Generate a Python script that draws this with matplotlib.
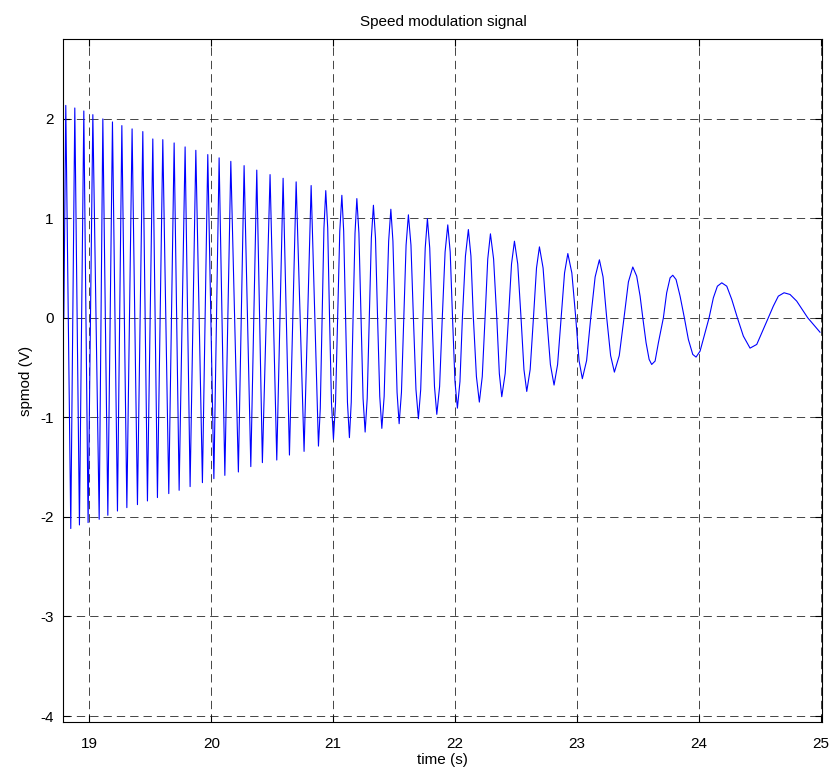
import numpy as np
import matplotlib.pyplot as plt

plt.rcParams['font.family'] = ['Liberation Sans', 'DejaVu Sans']
plt.rcParams['axes.unicode_minus'] = False

# extrema of the signal (time s, value V)
peak_t = [18.806, 18.880, 18.954, 19.028, 19.110, 19.189, 19.266, 19.350, 19.438, 19.520,
          19.602, 19.695, 19.785, 19.873, 19.971, 20.064, 20.160, 20.269, 20.373, 20.482,
          20.589, 20.696, 20.819, 20.939, 21.071, 21.194, 21.330, 21.473, 21.617, 21.773,
          21.940, 22.109, 22.290, 22.487, 22.692, 22.925, 23.184, 23.458, 23.786, 24.188,
          24.699]
peak_v = [2.133, 2.107, 2.077, 2.040, 1.997, 1.967, 1.930, 1.897, 1.870, 1.796,
          1.789, 1.756, 1.716, 1.682, 1.639, 1.606, 1.571, 1.528, 1.483, 1.438,
          1.401, 1.365, 1.328, 1.277, 1.230, 1.197, 1.130, 1.090, 1.034, 0.996,
          0.933, 0.886, 0.843, 0.769, 0.712, 0.645, 0.582, 0.510, 0.427, 0.351,
          0.251]
trough_t = [18.847, 18.918, 18.989, 19.080, 19.151, 19.230, 19.307, 19.394, 19.476, 19.558,
            19.651, 19.736, 19.826, 19.927, 20.021, 20.111, 20.222, 20.324, 20.419, 20.537,
            20.641, 20.761, 20.879, 21.002, 21.133, 21.262, 21.399, 21.541, 21.699, 21.850,
            22.019, 22.199, 22.383, 22.588, 22.812, 23.044, 23.307, 23.613, 23.977, 24.420]
trough_v = [-2.117, -2.081, -2.057, -2.024, -1.984, -1.941, -1.907, -1.877, -1.840, -1.806,
            -1.766, -1.733, -1.696, -1.656, -1.616, -1.583, -1.549, -1.495, -1.455, -1.429,
            -1.379, -1.342, -1.289, -1.221, -1.204, -1.148, -1.111, -1.064, -1.014, -0.970,
            -0.908, -0.847, -0.793, -0.740, -0.676, -0.612, -0.546, -0.469, -0.395, -0.305]

# points on the flanks of the waves between 20.9 and 22 s
mid_t = [20.894, 20.909, 20.924, 20.955, 20.970, 20.986, 21.019, 21.036, 21.054,
         21.086, 21.102, 21.117, 21.148, 21.163, 21.179, 21.211, 21.228, 21.245,
         21.279, 21.296, 21.313, 21.347, 21.364, 21.382, 21.418, 21.436, 21.455,
         21.490, 21.507, 21.524, 21.560, 21.579, 21.598, 21.638, 21.658, 21.679,
         21.718, 21.736, 21.755, 21.792, 21.811, 21.831, 21.873, 21.895, 21.918,
         21.960, 21.979, 21.999]
mid_v = [-0.91, 0.0, 0.90, 0.90, 0.0, -0.86, -0.86, 0.0, 0.87,
         0.87, 0.0, -0.85, -0.85, 0.0, 0.85, 0.85, 0.0, -0.81,
         -0.81, 0.0, 0.80, 0.80, 0.0, -0.79, -0.79, 0.0, 0.77,
         0.77, 0.0, -0.75, -0.75, 0.0, 0.73, 0.73, 0.0, -0.72,
         -0.72, 0.0, 0.70, 0.70, 0.0, -0.69, -0.69, 0.0, 0.66,
         0.66, 0.0, -0.64]

# zero crossings and flank points between 22 and 23.5 s
flank_t = [22.040, 22.060, 22.085, 22.130, 22.150, 22.175, 22.223, 22.246, 22.268,
           22.316, 22.342, 22.363, 22.411, 22.438, 22.463, 22.514, 22.541, 22.565,
           22.616, 22.643, 22.668, 22.722, 22.752, 22.782, 22.841, 22.870, 22.898,
           22.958, 22.990, 23.017, 23.079, 23.113, 23.149, 23.214, 23.244, 23.276,
           23.347, 23.386, 23.422]
flank_v = [-0.64, 0.0, 0.62, 0.62, 0.0, -0.59, -0.59, 0.0, 0.59,
           0.59, 0.0, -0.56, -0.56, 0.0, 0.54, 0.54, 0.0, -0.52,
           -0.52, 0.0, 0.50, 0.50, 0.0, -0.47, -0.47, 0.0, 0.45,
           0.45, 0.0, -0.43, -0.43, 0.0, 0.41, 0.41, 0.0, -0.38,
           -0.38, 0.0, 0.36]

# extra points on the slow waves at the start and end
tail_t = [18.790,
          23.490, 23.518, 23.540, 23.567, 23.592, 23.641, 23.668, 23.709, 23.736, 23.764,
          23.813, 23.846, 23.881, 23.914, 23.950, 24.010, 24.051, 24.084, 24.119, 24.152,
          24.229, 24.270, 24.316, 24.365, 24.475, 24.529, 24.570, 24.611, 24.652,
          24.748, 24.803, 24.857, 24.893, 24.940, 24.994]
tail_v = [0.0,
          0.418, 0.217, 0.0, -0.251, -0.418, -0.435, -0.251, 0.0, 0.251, 0.401,
          0.384, 0.217, 0.0, -0.218, -0.368, -0.335, -0.151, 0.0, 0.200, 0.317,
          0.317, 0.184, 0.0, -0.184, -0.268, -0.117, 0.0, 0.117, 0.217,
          0.234, 0.167, 0.067, 0.0, -0.067, -0.145]

t = np.concatenate([peak_t, trough_t, mid_t, flank_t, tail_t])
v = np.concatenate([peak_v, trough_v, mid_v, flank_v, tail_v])
order = np.argsort(t)
t, v = t[order], v[order]

fig = plt.figure(figsize=(8.34, 7.75), dpi=100)
ax = fig.add_axes([0.0761, 0.0684, 0.9099, 0.8813])

ax.plot(t, v, color='#0000ff', lw=0.8)

ax.set_xlim(18.787, 25.013)
ax.set_ylim(-4.06, 2.8)
ax.set_xticks(range(19, 26))
ax.set_yticks(range(-4, 3))
ax.grid(True, color='0.15', lw=0.6, linestyle=(0, (10, 6)))
ax.tick_params(direction='in', top=True, right=True, length=5, labelsize=11)
ax.tick_params(axis='x', pad=11)
ax.tick_params(axis='y', pad=7)
for s in ax.spines.values():
    s.set_linewidth(0.8)

ax.set_title('Speed modulation signal', fontsize=11, pad=9)
ax.set_xlabel('time (s)', fontsize=11, labelpad=1)
ax.set_ylabel('spmod (V)', fontsize=11, labelpad=5)

fig.savefig('out.png', dpi=100)
